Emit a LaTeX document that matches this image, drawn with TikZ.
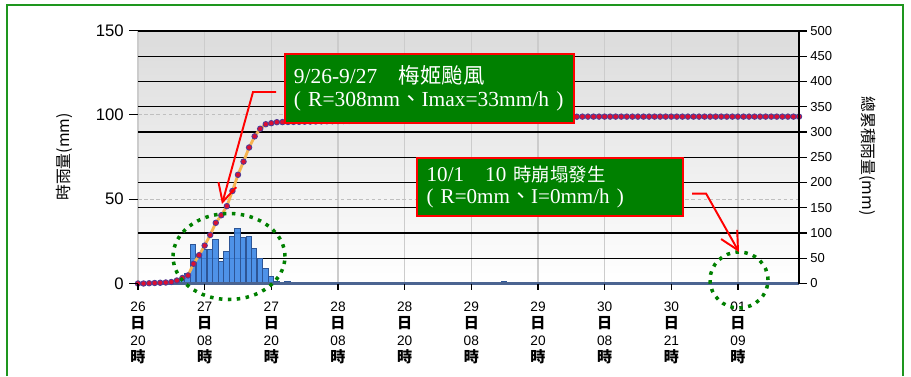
\documentclass[tikz,border=0pt]{standalone}
\usepackage{fontspec}
\setmainfont{Liberation Serif}
\setsansfont{Liberation Sans}
\newfontfamily\cjk{Noto Sans CJK TC}
\usetikzlibrary{arrows.meta,shapes.geometric}
\definecolor{framegreen}{RGB}{30,150,30}
\definecolor{boxgreen}{RGB}{0,128,0}
\definecolor{ringgreen}{RGB}{0,128,0}
\definecolor{barblue}{RGB}{60,135,230}
\definecolor{baredge}{RGB}{45,85,150}
\definecolor{curveorange}{RGB}{247,180,80}
\definecolor{dotred}{RGB}{220,15,50}
\definecolor{dotrim}{RGB}{80,60,150}
\definecolor{zeroblue}{RGB}{75,100,145}

\begin{document}
\begin{tikzpicture}[x=0.02cm, y=-0.02cm,
    vgrid/.style={draw=black!20, line width=0.8pt},
    hgrid/.style={draw=black, line width=0.75pt},
    dashgrid/.style={draw=black!25, line width=0.5pt, dash pattern=on 2pt off 1.5pt},
    axisline/.style={draw=black, line width=0.75pt},
    zeroline/.style={draw=zeroblue, line width=1.3pt},
    rainbar/.style={fill=barblue, fill opacity=0.9, draw=baredge, line width=0.4pt},
    cumline/.style={draw=curveorange, line width=1.6pt},
    cumdot/.style={fill=dotred, draw=dotrim, line width=0.5pt},
    ringmark/.style={ellipse, draw=ringgreen, line width=2pt, dash pattern=on 2pt off 3.1pt, inner sep=0pt, outer sep=0pt},
    notebox/.style={draw=red, fill=boxgreen, line width=1.1pt, text=white, align=left, anchor=north west, font=\fontsize{12.2}{13}\selectfont, inner xsep=0.18cm},
    calloutarrow/.style={draw=red, line width=1.1pt, -{Straight Barb[length=0.36cm, width=0.37cm]}},
    leftlab/.style={anchor=east, font=\sffamily\fontsize{9.5}{10}\selectfont, inner sep=0pt},
    rightlab/.style={anchor=west, font=\sffamily\fontsize{7.4}{8}\selectfont, inner sep=0pt},
    xlab/.style={align=center, font=\sffamily\fontsize{7.8}{9.6}\selectfont, inner sep=0pt},
    axtitle/.style={font=\cjk\fontsize{9}{10}\selectfont, inner sep=0pt}]

\useasboundingbox (0,0) rectangle (911,376);
\draw[framegreen, line width=1pt] (7,376) -- (7,5) -- (903,5) -- (903,376);

\shade[top color=black!14, bottom color=white] (138,31) rectangle (799,283.5);
\foreach \k in {0,...,9}
  \draw[vgrid] (138+66.67*\k,31) -- (138+66.67*\k,283.5);
\draw[dashgrid] (138,199.2) -- (799,199.2) (138,114.8) -- (799,114.8);
\foreach \k in {1,...,10}
  \draw[hgrid] (138,283.5-25.25*\k) -- (799,283.5-25.25*\k);

\begin{scope}[shift={(138,283.5)}, x=0.11111cm, y=0.03374cm]
  \foreach \h/\v in {8/3,9/6,10/23,11/17,12/20,13/20,14/26,15/13,16/19,17/28,18/33,19/27.5,20/28,21/21,22/15,23/9,24/4,25/1,27/1,66/1}
    \filldraw[rainbar] (\h-0.58,0) rectangle (\h+0.38,\v);
\end{scope}
\draw[zeroline] (138,283.5) -- (799,283.5);

\begin{scope}[shift={(138,283.5)}, x=0.11111cm, y=0.010122cm]
  \draw[cumline] (0,0) \foreach \h/\c in {1/0,2/0.5,3/1,4/1.5,5/2,6/3,7/6,8/11,9/16,10/39,11/56,12/75,13/96,14/120,15/135,16/153,17/183,18/215,19/241,20/269,21/291,22/306,23/315,24/317,25/319} { -- (\h,\c) }
    \foreach \h in {26,...,119} { -- (\h,{min(330,319+0.2*(\h-25))}) };
  \foreach \h/\c in {0/0,1/0,2/0.5,3/1,4/1.5,5/2,6/3,7/6,8/11,9/16,10/39,11/56,12/75,13/96,14/120,15/135,16/153,17/183,18/215,19/241,20/269,21/291,22/306,23/315,24/317,25/319}
    \filldraw[cumdot] (\h,\c) circle[radius=0.055cm];
  \foreach \h in {26,...,119}
    \filldraw[cumdot] (\h,{min(330,319+0.2*(\h-25))}) circle[radius=0.055cm];
\end{scope}

\draw[axisline] (799,31) -- (799,283.5);
\foreach \v [count=\k from 0] in {0,50,...,500} {
  \draw[axisline] (799,283.5-25.25*\k) -- (807,283.5-25.25*\k);
  \node[rightlab] (r\v) at (810,283.5-25.25*\k) {\v};
}
\foreach \v/\y in {0/283.5,50/199.2,100/114.8,150/30.5} {
  \draw[axisline] (129,\y) -- (138,\y);
  \node[leftlab] (l\v) at (124,\y) {\v};
}
\foreach \dy/\hr [count=\i from 0] in {26/20,27/08,27/20,28/08,28/20,29/08,29/20,30/08,30/21,01/09} {
  \draw[axisline] (138+66.67*\i,283.5) -- (138+66.67*\i,290);
  \node[xlab] (x\i) at (138+66.67*\i,333) {\dy\\{\cjk\bfseries\fontsize{8.6}{9.6}\selectfont 日}\\\hr\\{\cjk\bfseries\fontsize{8.6}{9.6}\selectfont 時}};
}

\node[axtitle, rotate=90] (ltitle) at (64,157) {時雨量(mm)};
\node[axtitle, rotate=-90] (rtitle) at (868,156) {總累積雨量(mm)};

\node[ringmark, minimum width=2.24cm, minimum height=1.72cm] (rainring) at (229,256.5) {};
\node[ringmark, minimum width=1.16cm, minimum height=1.12cm] (slidering) at (739,280) {};

\node[notebox, minimum width=5.78cm, minimum height=1.37cm, text width=5.42cm] (typhoon) at (284,53.3)
  {9/26-9/27{\cjk　梅姬颱風}\\( R=308mm{\cjk 、}Imax=33mm/h )};
\node[notebox, minimum width=5.32cm, minimum height=1.154cm, text width=4.92cm, inner xsep=0.2cm, font=\fontsize{12}{12.5}\selectfont] (collapse) at (415.7,157.3)
  {10/1{\cjk　}10 {\cjk\fontsize{10.5}{12.5}\selectfont 時崩塌發生}\\( R=0mm{\cjk 、}I=0mm/h )};

\coordinate (tailA) at ([xshift=-0.16cm, yshift=-0.07cm]typhoon.west);
\coordinate (tipA) at (222,204);
\draw[calloutarrow] (tailA) -- ++(-23,0) -- (tipA);
\coordinate (tailB) at ([xshift=0.17cm, yshift=-0.13cm]collapse.east);
\draw[calloutarrow] (tailB) -- ++(14,0) -- (slidering.north);
\end{tikzpicture}
\end{document}
